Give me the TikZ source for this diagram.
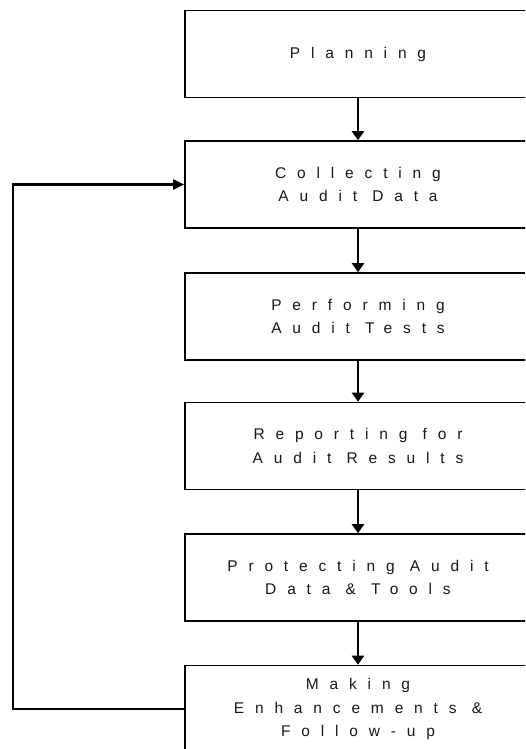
\documentclass[tikz,border=0pt]{standalone}
\usepackage{fontspec}
\setmainfont{Liberation Sans}[LetterSpace=70]
\usetikzlibrary{arrows.meta}
\begin{document}
\begin{tikzpicture}[x=1pt,y=1pt,
  stage/.style={draw=black, line width=1.6pt, minimum width=346pt, minimum height=87pt,
    inner sep=0pt, align=center, text=black!90, font=\fontsize{15.5}{23.5}\selectfont},
  flow/.style={line width=2.6pt, -{Triangle[width=12pt,length=9pt]}},
  loop/.style={line width=2.2pt, -{Triangle[width=10pt,length=11pt]}}]
  \clip (0,0) rectangle (525,-749);
  \fill[white] (0,0) rectangle (525,-749);
  % process stages
  \node[stage] (plan)    at (358,-54)    {Planning};
  \node[stage] (collect) at (358,-184.5) {Collecting\\Audit Data};
  \node[stage] (perform) at (358,-316.5) {Performing\\Audit Tests};
  \node[stage] (report)  at (358,-446)   {Reporting for\\Audit Results};
  \node[stage] (protect) at (358,-577.5) {Protecting Audit\\Data \& Tools};
  \node[stage] (enhance) at (358,-709)   {Making\\Enhancements \&\\Follow-up};
  % forward flow
  \draw[flow] (plan) -- (collect);
  \draw[flow] (collect) -- (perform);
  \draw[flow] (perform) -- (report);
  \draw[flow] (report) -- (protect);
  \draw[flow] (protect) -- (enhance);
  % feedback loop
  \coordinate (fbtop) at (13,-184.5);
  \coordinate (fbbot) at (13,-709);
  \draw[loop] (enhance.west) -- (fbbot) -- (fbtop) -- (collect.west);
\end{tikzpicture}
\end{document}
